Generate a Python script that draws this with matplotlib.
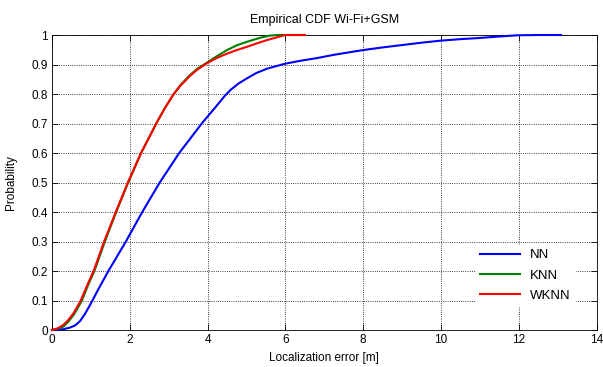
import matplotlib
matplotlib.use("Agg")
import matplotlib.pyplot as plt

plt.rcParams['font.family'] = ['Liberation Sans', 'DejaVu Sans']

# NN
nn_x = [0, 0.15, 0.3, 0.46, 0.6, 0.72, 0.85, 1.0, 1.22, 1.45, 1.9, 2.32, 2.77, 3.27,
        3.85, 4.2, 4.45, 4.6, 4.8, 5.01, 5.25, 5.53, 6.0, 6.4, 6.82, 7.25, 7.67,
        8.0, 8.5, 9.0, 9.5, 10.0, 10.5, 11.0, 11.5, 11.95, 12.5, 13.08]
nn_y = [0, 0.0, 0.003, 0.008, 0.016, 0.03, 0.055, 0.09, 0.145, 0.2, 0.3, 0.4, 0.5, 0.6,
        0.7, 0.755, 0.795, 0.815, 0.836, 0.853, 0.871, 0.886, 0.903, 0.913, 0.922, 0.933, 0.942,
        0.949, 0.958, 0.966, 0.974, 0.981, 0.986, 0.99, 0.995, 0.999, 1.0, 1.0]

# KNN
knn_x = [0, 0.15, 0.3, 0.42, 0.55, 0.66, 0.77, 0.92, 1.09, 1.36, 1.65, 1.96, 2.29, 2.7,
         2.9, 3.12, 3.3, 3.55, 3.75, 3.98, 4.2, 4.5, 4.75, 5.01, 5.36, 5.6, 5.8, 6.5]
knn_y = [0, 0.004, 0.012, 0.028, 0.05, 0.074, 0.1, 0.15, 0.2, 0.3, 0.4, 0.5, 0.6, 0.705,
         0.752, 0.798, 0.83, 0.865, 0.887, 0.906, 0.925, 0.949, 0.965, 0.977, 0.991, 0.998, 1.0, 1.0]

# WKNN
wknn_x = [0, 0.15, 0.29, 0.42, 0.55, 0.64, 0.74, 0.9, 1.07, 1.34, 1.64, 1.95, 2.29, 2.7,
          2.9, 3.12, 3.3, 3.55, 3.75, 3.98, 4.2, 4.5, 4.75, 5.01, 5.25, 5.53, 5.83, 6.0, 6.5]
wknn_y = [0, 0.006, 0.017, 0.034, 0.056, 0.077, 0.1, 0.15, 0.2, 0.3, 0.4, 0.5, 0.6, 0.705,
          0.752, 0.798, 0.828, 0.862, 0.884, 0.904, 0.92, 0.937, 0.949, 0.96, 0.971, 0.983, 0.994, 1.0, 1.0]

fig = plt.figure(figsize=(6.03, 3.67), dpi=100)
ax = fig.add_axes([0.0862, 0.1008, 0.9033, 0.8038])

ax.plot(nn_x, nn_y, color='#0000ff', linewidth=1.5, label='NN', clip_on=False, zorder=3)
ax.plot(knn_x, knn_y, color='#008000', linewidth=1.5, label='KNN', clip_on=False, zorder=3)
ax.plot(wknn_x, wknn_y, color='#ff0000', linewidth=1.5, label='WKNN', clip_on=False, zorder=3)

ax.set_xlim(0, 14)
ax.set_ylim(0, 1)
ax.set_xticks(range(0, 15, 2))
ax.set_yticks([i / 10 for i in range(11)])
ax.set_yticklabels(['0', '0.1', '0.2', '0.3', '0.4', '0.5', '0.6', '0.7', '0.8', '0.9', '1'])
ax.tick_params(direction='in', length=4, width=0.6, top=True, right=True, labelsize=8.5, pad=3)
ax.grid(True, color='black', linestyle=':', linewidth=0.6)
for s in ax.spines.values():
    s.set_linewidth(0.6)

ax.set_xlabel('Localization error [m]', fontsize=8.5, labelpad=4)
ax.set_ylabel('Probability', fontsize=8.5, labelpad=10)
ax.set_title('Empirical CDF Wi-Fi+GSM', fontsize=9, pad=9)

leg = ax.legend(loc='lower right', bbox_to_anchor=(0.972, 0.06), fontsize=9.5,
                frameon=True, fancybox=False, edgecolor='white', framealpha=1,
                handlelength=3.0, labelspacing=0.6, borderpad=0.3)
leg.set_zorder(5)

fig.savefig('out.png', dpi=100)
